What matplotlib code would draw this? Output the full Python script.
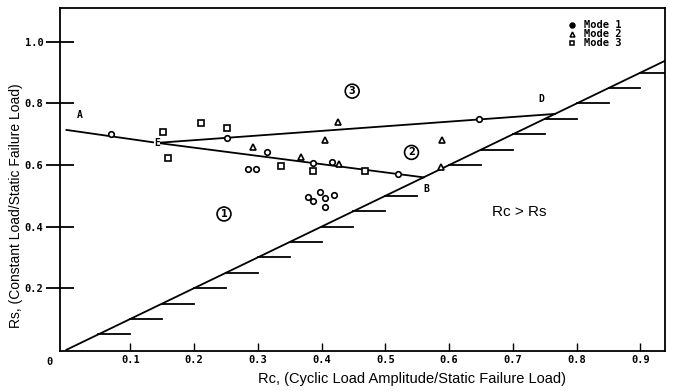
import numpy as np
import matplotlib.pyplot as plt

# failure-mode data points (Rc, Rs)
mode1_rc = [0.070, 0.252, 0.315, 0.387, 0.416, 0.520, 0.647, 0.284, 0.297,
            0.378, 0.387, 0.398, 0.406, 0.419, 0.406]
mode1_rs = [0.700, 0.687, 0.641, 0.607, 0.611, 0.571, 0.749, 0.587, 0.587,
            0.497, 0.484, 0.513, 0.492, 0.502, 0.464]

mode2_rc = [0.293, 0.368, 0.427, 0.406, 0.426, 0.589, 0.588]
mode2_rs = [0.658, 0.625, 0.603, 0.681, 0.741, 0.681, 0.594]

mode3_rc = [0.151, 0.159, 0.211, 0.252, 0.336, 0.387, 0.468]
mode3_rs = [0.706, 0.624, 0.738, 0.719, 0.598, 0.580, 0.581]

# boundary lines
left_rc, left_rs = [0.0, 0.142], [0.714, 0.672]
upper_rc, upper_rs = [0.142, 0.766], [0.672, 0.766]
lower_rc, lower_rs = [0.142, 0.560], [0.672, 0.560]
diag_rc, diag_rs = [0.0, 0.96], [0.0, 0.96]
hatch_levels = [0.05, 0.10, 0.15, 0.20, 0.25, 0.30, 0.35, 0.40, 0.45, 0.50,
                0.60, 0.65, 0.70, 0.75, 0.80, 0.85, 0.90]

point_labels = ['A', 'E', 'B', 'D']
point_label_rc = [0.021, 0.142, 0.565, 0.745]
point_label_rs = [0.762, 0.672, 0.521, 0.814]

region_labels = ['1', '2', '3']
region_rc = [0.247, 0.541, 0.448]
region_rs = [0.441, 0.641, 0.840]

xticks = [0.1, 0.2, 0.3, 0.4, 0.5, 0.6, 0.7, 0.8, 0.9]
yticks = [0.2, 0.4, 0.6, 0.8, 1.0]

mono = 'DejaVu Sans Mono'

fig = plt.figure(figsize=(6.74, 3.91), dpi=100)
ax = fig.add_axes([0.089, 0.1023, 0.8976, 0.8772])

lw = 1.3
ax.plot(diag_rc, diag_rs, color='k', lw=lw, zorder=2)
for h in hatch_levels:
    ax.plot([h, h + 0.05], [h, h], color='k', lw=lw, zorder=2)
ax.plot(left_rc, left_rs, color='k', lw=lw, zorder=2)
ax.plot(upper_rc, upper_rs, color='k', lw=lw, zorder=2)
ax.plot(lower_rc, lower_rs, color='k', lw=lw, zorder=2)

mk = dict(linestyle='none', mfc='white', mec='k', mew=1.2, zorder=3)
ax.plot(mode1_rc, mode1_rs, marker='o', ms=4, **mk)
ax.plot(mode2_rc, mode2_rs, marker='^', ms=4.5, **mk)
ax.plot(mode3_rc, mode3_rs, marker='s', ms=4, **mk)

for t, x, y in zip(point_labels, point_label_rc, point_label_rs):
    ax.text(x, y, t, fontsize=7, family=mono, weight='bold',
            ha='center', va='center', zorder=4,
            bbox=dict(fc='white', ec='none', pad=0.3))

for t, x, y in zip(region_labels, region_rc, region_rs):
    ax.text(x, y, t, fontsize=7, weight='bold', ha='center', va='center',
            bbox=dict(boxstyle='circle', fc='white', ec='k', lw=1.2, pad=0.2))

ax.text(0.71, 0.448, 'Rc > Rs', fontsize=11, family='Liberation Sans',
        ha='center', va='center')

# legend drawn by hand, like the original
leg_y = [0.950, 0.924, 0.898]
leg_m = ['o', '^', 's']
for i in range(3):
    ax.plot([0.846], [leg_y[i]], marker=leg_m[i], ms=3.5, mfc='k' if i == 0 else 'white',
            mec='k', mew=1.1, transform=ax.transAxes, clip_on=False)
    ax.text(0.866, leg_y[i], f'Mode {i + 1}', fontsize=7.5, family=mono,
            weight='bold', va='center', transform=ax.transAxes)

ax.set_xlim(-0.0102, 0.9385)
ax.set_ylim(-0.004, 1.11)
ax.set_xticks(xticks)
ax.set_xticklabels([f'{v:.1f}' for v in xticks], family=mono, weight='bold', fontsize=7.5)
ax.set_yticks(yticks)
ax.set_yticklabels([f'{v:.1f}' for v in yticks], family=mono, weight='bold', fontsize=7.5)
ax.tick_params(axis='x', direction='in', length=6, width=1.0, pad=3)
ax.tick_params(axis='y', direction='inout', length=20, width=1.3, pad=2)
ax.text(-0.026, -0.04, '0', family=mono, weight='bold', fontsize=7.5,
        ha='center', va='center', clip_on=False)

for s in ax.spines.values():
    s.set_linewidth(1.3)

fig.text(0.612, 0.030, 'Rc, (Cyclic Load Amplitude/Static Failure Load)',
         family='Liberation Sans', fontsize=10.5, ha='center', va='center')
fig.text(0.024, 0.475, 'Rs, (Constant Load/Static Failure Load)',
         family='Liberation Sans', fontsize=10, rotation=90, ha='center', va='center')

fig.savefig('out.png', dpi=100)
